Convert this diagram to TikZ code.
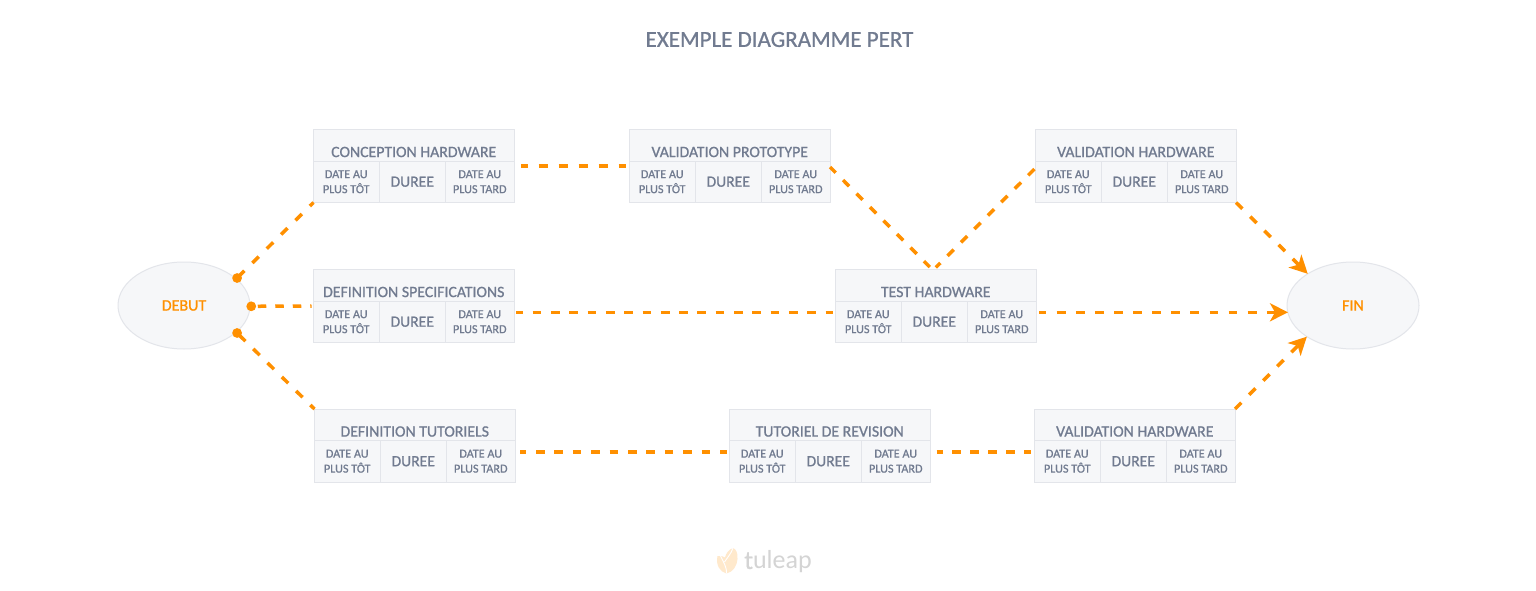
\documentclass[tikz,border=0pt]{standalone}
\usepackage{fontspec}
\setmainfont[FakeBold=0.9]{Carlito}
\newfontfamily\logolight{Carlito}
\usetikzlibrary{arrows.meta,shapes.geometric}
\definecolor{ink}{HTML}{717B90}
\definecolor{cellfill}{HTML}{F6F7F9}
\definecolor{cellline}{HTML}{E3E5EA}
\definecolor{flow}{HTML}{FF9000}
\tikzset{
  x=1pt,y=-1pt,
  frame/.style={draw=cellline,fill=cellfill,line width=1pt,minimum width=200.5pt,minimum height=73pt,inner sep=0pt,outer sep=0pt},
  cell/.style={draw=cellline,fill=cellfill,line width=1pt,inner sep=0pt,outer sep=0pt,minimum height=41.5pt,align=center,text=ink},
  headtext/.style={text=ink,font=\fontsize{15.8pt}{16pt}\selectfont,inner sep=0pt},
  smalltext/.style={font=\fontsize{12.2pt}{15pt}\selectfont},
  midtext/.style={font=\fontsize{15.6pt}{16pt}\selectfont},
  terminal/.style={ellipse,draw=cellline,fill=cellfill,line width=1pt,minimum width=132pt,minimum height=87pt,inner sep=0pt,outer sep=0pt,text=flow,font=\fontsize{16pt}{15pt}\selectfont},
  flowline/.style={draw=flow,line width=3.5pt},
  fd/.style n args={3}{dash pattern=on #1pt off #2pt,dash phase=#3pt},
  startdot/.style={flowline,{Circle[length=9.5pt,width=9.5pt]}-,shorten <=-3.5pt},
  endtip/.style={flowline,-{Stealth[length=18pt,width=18pt,inset=5pt]}},
}
\newcommand{\pertbox}[4]{%
  \node[frame] (#1) at (#2+100.25,#3+36.5) {};
  \node[headtext] (#1-t) at (#2+100.25,#3+22.5) {#4};
  \node[cell,smalltext,minimum width=65.5pt,anchor=south west] (#1-a) at (#1.south west) {DATE AU\\PLUS TÔT};
  \node[cell,midtext,minimum width=66.5pt,anchor=south west] (#1-b) at (#1-a.south east) {DUREE};
  \node[cell,smalltext,minimum width=68.5pt,anchor=south west] (#1-c) at (#1-b.south east) {DATE AU\\PLUS TARD};
}
\begin{document}
\begin{tikzpicture}
\useasboundingbox (0,0) rectangle (1536,591);
\fill[white] (0,0) rectangle (1536,591);
\node[text=ink,font=\fontsize{23pt}{24pt}\selectfont,inner sep=0pt] (title) at (779.5,39.5) {EXEMPLE DIAGRAMME PERT};

\node[terminal] (debut) at (184,305.5) {DEBUT};
\node[terminal] (fin) at (1353,305.5) {FIN};

\pertbox{concept}{313.5}{129.5}{CONCEPTION HARDWARE}
\pertbox{proto}{629.5}{129.5}{VALIDATION PROTOTYPE}
\pertbox{valhw}{1035.5}{129.5}{VALIDATION HARDWARE}
\pertbox{spec}{313.5}{269.5}{DEFINITION SPECIFICATIONS}
\pertbox{test}{835.5}{269.5}{TEST HARDWARE}
\pertbox{tuto}{314.5}{409}{DEFINITION TUTORIELS}
\pertbox{revis}{729.5}{409}{TUTORIEL DE REVISION}
\pertbox{valhwb}{1034.5}{409}{VALIDATION HARDWARE}

% start dots
\draw[startdot,fd={9}{11.2}{1.7}] (debut.27) -- (concept.south west);
\draw[startdot,fd={8.5}{9}{14}] ([yshift=-0.8pt]debut.east) -- ([xshift=-2pt]spec.west);
\draw[startdot,fd={9}{11}{0.3}] (debut.-27) -- (tuto.north west);

% middle flows
\draw[flowline,fd={9}{11}{2.3}] ([xshift=7pt]concept.east) -- ([xshift=-4pt]proto.west);
\draw[flowline,fd={8.8}{10.3}{0.7}] ([yshift=-1pt]proto.east) -- ([xshift=-6pt,yshift=2.5pt]test.north);
\draw[flowline,fd={8.8}{10.2}{2.4}] ([yshift=2pt]test.north) -- ([yshift=-2pt]valhw.west);
\draw[flowline,fd={8.7}{9.6}{1.6}] ([xshift=2pt,yshift=-6.3pt]spec.east) -- ([xshift=-3pt,yshift=-6.3pt]test.west);
\draw[flowline,fd={8.6}{9.8}{2.4}] ([xshift=5pt,yshift=-6.5pt]tuto.east) -- ([xshift=-2.5pt,yshift=-6.5pt]revis.west);
\draw[flowline,fd={8.5}{9.5}{2.5}] ([xshift=6.7pt,yshift=-6.5pt]revis.east) -- ([xshift=-4pt,yshift=-6.5pt]valhwb.west);

% arrows to end
\draw[endtip,fd={9}{11}{0}] (valhw.south east) -- (fin.145.7);
\draw[endtip,fd={8.8}{10.3}{1.7}] ([xshift=3.3pt,yshift=-6.3pt]test.east) -- ([xshift=1pt,yshift=-6.8pt]fin.west);
\draw[endtip,fd={9}{11}{0}] (valhwb.north east) -- (fin.214);

% tuleap logo
\node[inner sep=0pt,text=black!17,font=\fontsize{26pt}{26pt}\selectfont] (logotext) at (778,562) {t{\logolight uleap}};
\fill[flow!20] (726.5,573.5) .. controls (720,572) and (715.5,565) .. (717.5,556) .. controls (720,555.5) and (723,556) .. (725,557.5) .. controls (726,553) and (729,549.5) .. (733,548) .. controls (736,549) and (738,553) .. (737.5,559) .. controls (737,566) and (733,572) .. (726.5,573.5) -- cycle;
\draw[white,line width=0.9pt] (726.5,573.5) .. controls (727,568) and (724,563) .. (720.5,556);
\draw[white,line width=0.9pt] (724.5,562) .. controls (727,558) and (731,554) .. (733,548);
\end{tikzpicture}
\end{document}
